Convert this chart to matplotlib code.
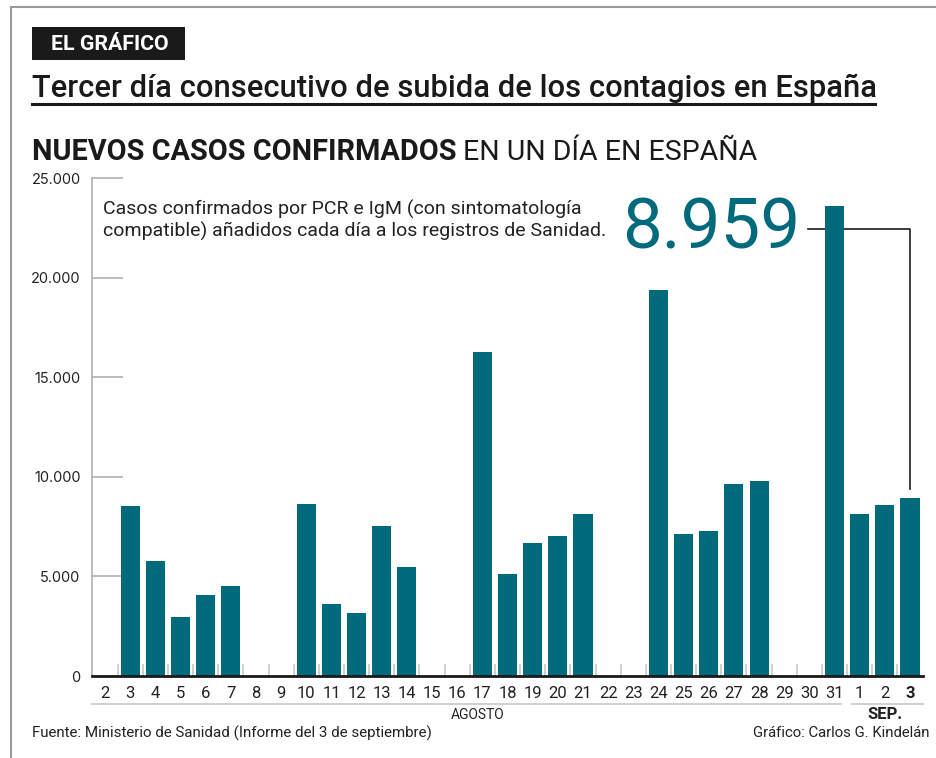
import numpy as np
import matplotlib
matplotlib.use("Agg")
import matplotlib.pyplot as plt
from matplotlib.patches import Rectangle
from matplotlib.lines import Line2D

# ── data ─────────────────────────────────────────────
days = [str(d) for d in range(2, 32)] + ["1", "2", "3"]
cases = [
    0, 8532, 5760, 2953, 4088, 4507, 0, 0,
    8618, 3632, 3172, 7550, 5479, 0, 0,
    16269, 5114, 6671, 7039, 8148, 0, 0,
    19382, 7117, 7296, 9658, 9779, 0, 0,
    23572, 8115, 8581, 8959,
]
yticks = [0, 5000, 10000, 15000, 20000, 25000]
ytick_labels = ["0", "5.000", "10.000", "15.000", "20.000", "25.000"]
last_value_label = "8.959"

TEAL = "#006a7d"
INK = "#1a1a1a"
FONT = ["Roboto", "DejaVu Sans"]
NUMF = ["Inter", "DejaVu Sans"]
W, H = 937, 758


def fx(px):
    return px / W


def fy(py):
    return 1 - py / H


def fit_width(txt, width_px):
    """Rescale a text's font size so it spans width_px pixels."""
    r = fig.canvas.get_renderer()
    w = txt.get_window_extent(r).width
    txt.set_fontsize(txt.get_fontsize() * width_px / w)
    return txt.get_window_extent(r)


fig = plt.figure(figsize=(W / 100, H / 100), dpi=100)
fig.patch.set_facecolor("white")
fig.canvas.draw()

# frame
fig.add_artist(Line2D([fx(11), fx(11)], [fy(7), fy(758)], color="#9a9a9a", lw=1.5))
fig.add_artist(Line2D([fx(11), fx(937)], [fy(7), fy(7)], color="#9a9a9a", lw=1.5))

# header box
fig.add_artist(Rectangle((fx(32), fy(60)), fx(185) - fx(32), fy(27) - fy(60),
                         transform=fig.transFigure, color=INK, lw=0))
t = fig.text(fx(110), fy(44), "EL GRÁFICO", color="white", fontsize=14,
             fontweight="bold", family=FONT, ha="center", va="center")
fit_width(t, 118)

# title, underlined
t = fig.text(fx(32), fy(88), "Tercer día consecutivo de subida de los contagios en España",
             fontsize=23, fontweight="medium", family=FONT, color=INK,
             ha="left", va="center")
fit_width(t, 842)
fig.add_artist(Line2D([fx(32), fx(875)], [fy(104), fy(104)], color=INK, lw=2.2))

# subtitle: bold part + regular part
t1 = fig.text(fx(32), fy(152), "NUEVOS CASOS CONFIRMADOS", fontsize=20,
              fontweight="bold", family=FONT, color=INK, ha="left", va="center")
fit_width(t1, 423)
t2 = fig.text(fx(463), fy(152), "EN UN DÍA EN ESPAÑA", fontsize=t1.get_fontsize(),
              family=FONT, color=INK, ha="left", va="center")
fit_width(t2, 293)

# ── chart ────────────────────────────────────────────
ax = fig.add_axes([fx(92.4), fy(676), fx(922.6) - fx(92.4), fy(178) - fy(676)])
x = np.arange(len(days))
ax.bar(x, cases, width=0.76, color=TEAL, zorder=3)
ax.set_xlim(-0.5, len(days) - 0.5)
ax.set_ylim(0, 25000)

# category separators
ax.vlines(np.arange(0.5, len(days) - 0.5), 0, 600, color="#c8c8c8", lw=1.2, zorder=1)

for s in ["top", "right"]:
    ax.spines[s].set_visible(False)
ax.spines["left"].set_color("#b0b0b0")
ax.spines["left"].set_linewidth(1.2)
ax.spines["bottom"].set_color(INK)
ax.spines["bottom"].set_linewidth(2)
ax.spines["bottom"].set_zorder(4)

ax.set_yticks(yticks)
ax.set_yticklabels(ytick_labels, family=NUMF, fontsize=10.5, color="#222")
ax.tick_params(axis="y", direction="in", length=22, width=1.2, color="#b0b0b0", pad=8.5)

ax.set_xticks(x)
ax.set_xticklabels(days, family=FONT, fontsize=12, color="#222")
ax.get_xticklabels()[-1].set_fontweight("bold")
ax.tick_params(axis="x", length=0, pad=7)

# month brackets
n_aug = 30
ax.plot([-0.5, n_aug - 1 + 0.25], [-1400, -1400], color="#c8c8c8", lw=1.2, clip_on=False)
ax.plot([n_aug - 1 + 0.7, len(days) - 0.5], [-1400, -1400], color="#c8c8c8", lw=1.2, clip_on=False)
ax.text((n_aug - 1) / 2 + 0.3, -1950, "AGOSTO", family=FONT, fontsize=10,
        color="#222", ha="center", va="center")
ax.text(len(days) - 2, -1950, "SEP.", family=FONT, fontsize=12, fontweight="bold",
        color="#222", ha="center", va="center")

# annotation
ann = ax.text(-0.07, 23900, "Casos confirmados por PCR e IgM (con sintomatología\n"
              "compatible) añadidos cada día a los registros de Sanidad.",
              family=FONT, fontsize=12.5, color="#222", ha="left", va="top", linespacing=1.2)
fit_width(ann, 500)

# big callout number + leader line
big = ax.text(27.62, 22450, last_value_label, fontsize=58, color=TEAL,
              family=FONT, ha="right", va="center")
fit_width(big, 178)
top_y = 22450
ax.plot([27.95, len(days) - 1, len(days) - 1], [top_y, top_y, cases[-1] + 450],
        color=INK, lw=1.2, zorder=2)

# footer
t = fig.text(fx(32), fy(733), "Fuente: Ministerio de Sanidad (Informe del 3 de septiembre)",
             family=FONT, fontsize=11, color="#222", ha="left", va="center")
fit_width(t, 400)
t = fig.text(fx(930), fy(733), "Gráfico: Carlos G. Kindelán",
             family=FONT, fontsize=11, color="#222", ha="right", va="center")
fit_width(t, 176)

fig.savefig("out.png", dpi=100, facecolor="white")
